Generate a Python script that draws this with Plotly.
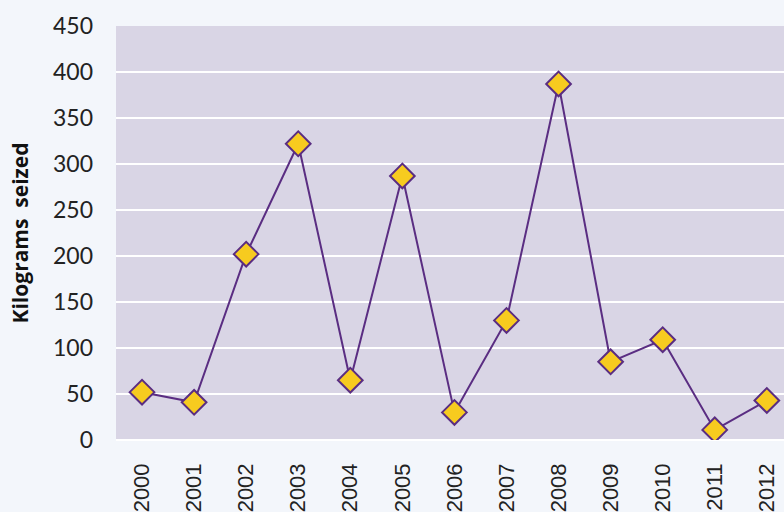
import plotly.graph_objects as go

# data
years = ["2000", "2001", "2002", "2003", "2004", "2005", "2006",
         "2007", "2008", "2009", "2010", "2011", "2012"]
kilograms = [52, 41, 202, 322, 65, 287, 30, 130, 387, 85, 109, 11, 43]

fig = go.Figure()

fig.add_trace(
    go.Scatter(
        x=years,
        y=kilograms,
        mode="lines+markers",
        line=dict(color="#5a2d82", width=2),
        marker=dict(
            symbol="diamond",
            size=19,
            color="#f7cb1f",
            line=dict(color="#5a2d82", width=2),
        ),
        showlegend=False,
    )
)

fig.update_layout(
    width=784,
    height=512,
    margin=dict(l=116, r=0, t=26, b=72),
    paper_bgcolor="#f3f6fb",
    plot_bgcolor="#d9d5e5",
    font=dict(family="Lato", size=23, color="#222222"),
    xaxis=dict(
        type="category",
        range=[-0.5, 12.33],
        tickangle=-90,
        showgrid=False,
        ticks="",
        automargin=False,
        tickfont=dict(family="Liberation Sans", size=22, color="#222222"),
        ticklabelstandoff=18,
    ),
    yaxis=dict(
        range=[0, 450],
        dtick=50,
        gridcolor="white",
        gridwidth=2,
        zeroline=True,
        zerolinecolor="white",
        zerolinewidth=2,
        ticks="",
        automargin=False,
        ticklabelstandoff=22,
        title=dict(
            text="<b>Kilograms  seized</b>",
            font=dict(family="Open Sans", size=21, color="#111111"),
            standoff=18,
        ),
    ),
)

# drop the page's default body margin so the chart fills the window
fig.write_html(
    "out.html",
    config={"displayModeBar": False},
    post_script="document.body.style.margin='0';"
    "document.body.style.background='#f3f6fb';",
)
